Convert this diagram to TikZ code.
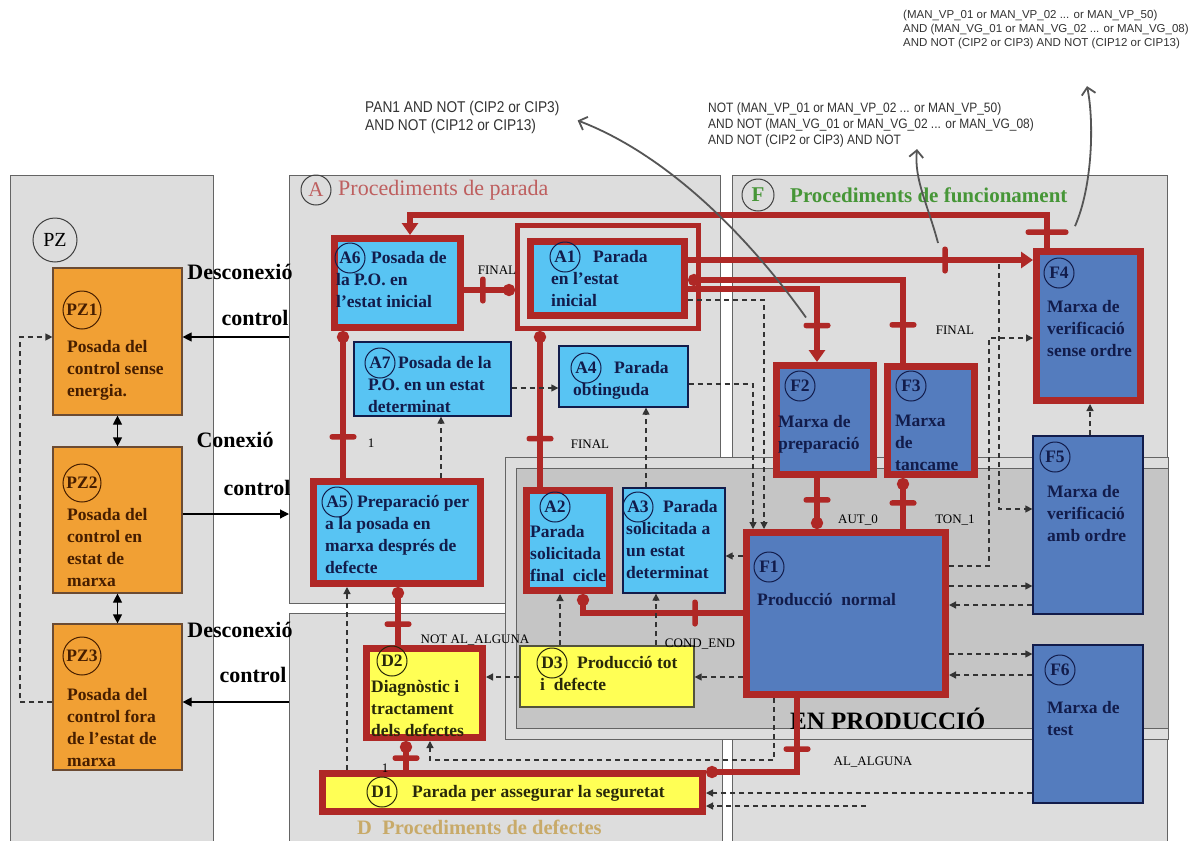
\documentclass[tikz,border=0pt]{standalone}
\usepackage{fontspec}
\setmainfont{Liberation Serif}
\newfontfamily\annfont{Liberation Sans}[FakeStretch=0.88]
\newfontfamily\annwide{Liberation Sans}
\usetikzlibrary{arrows.meta,positioning,calc}
\definecolor{panelgray}{RGB}{221,221,221}
\definecolor{prodgray}{RGB}{197,197,197}
\definecolor{panelline}{RGB}{100,100,100}
\definecolor{lred}{RGB}{175,40,38}
\definecolor{skyblue}{RGB}{88,196,243}
\definecolor{steelblue}{RGB}{84,124,190}
\definecolor{orangebox}{RGB}{241,160,52}
\definecolor{yellowbox}{RGB}{255,255,85}
\definecolor{navy}{RGB}{18,28,75}
\definecolor{brownt}{RGB}{70,30,0}
\definecolor{olivet}{RGB}{40,40,10}
\definecolor{atitle}{RGB}{190,95,95}
\definecolor{ftitle}{RGB}{70,150,55}
\definecolor{dtitle}{RGB}{200,170,105}
\definecolor{annogray}{RGB}{85,85,85}

\begin{document}
\begin{tikzpicture}[x=1pt, y=-1pt, >=Latex]
\tikzstyle{panel}=[draw=panelline, line width=1.2pt, fill=panelgray, inner sep=0pt, anchor=north west]
\tikzstyle{prodi}=[draw=panelline, line width=1.2pt, fill=prodgray, inner sep=0pt, anchor=north west]
\tikzstyle{pzbox}=[draw=brownt!80, line width=1.2pt, fill=orangebox, inner sep=0pt]
\tikzstyle{abox}=[draw=navy, line width=1.3pt, fill=skyblue, inner sep=0pt]
\tikzstyle{aboxr}=[draw=lred, line width=7pt, fill=skyblue, inner sep=0pt]
\tikzstyle{aframe}=[draw=lred, line width=5pt, inner sep=0pt]
\tikzstyle{dbox}=[draw=olivet!80, line width=1.3pt, fill=yellowbox, inner sep=0pt]
\tikzstyle{dboxr}=[draw=lred, line width=7pt, fill=yellowbox, inner sep=0pt]
\tikzstyle{fbox}=[draw=navy, line width=1.3pt, fill=steelblue, inner sep=0pt]
\tikzstyle{fboxr}=[draw=lred, line width=7pt, fill=steelblue, inner sep=0pt]
\tikzstyle{btxt}=[font=\fontsize{17.5}{22}\selectfont\bfseries, align=left, anchor=north west, inner sep=0pt, text=navy]
\tikzstyle{idc}=[circle, draw=navy, line width=1pt, inner sep=0pt, minimum size=30pt, font=\fontsize{17.5}{20}\selectfont\bfseries, text=navy]
\tikzstyle{side}=[font=\fontsize{22}{26}\selectfont\bfseries, inner sep=0pt]
\tikzstyle{tlab}=[font=\fontsize{13}{15}\selectfont, inner sep=0pt]
\tikzstyle{flow}=[draw=lred, line width=5.5pt]
\tikzstyle{flowin}=[flow, -{Triangle[length=12pt,width=16pt]}]
\tikzstyle{flowdot}=[flow, -{Circle[length=12pt]}]
\tikzstyle{tbar}=[fill=lred, inner sep=0pt, minimum width=5.5pt, minimum height=27pt, sloped, rounded corners=2.5pt]
\tikzstyle{sig}=[draw=black!80, line width=1.3pt, dash pattern=on 5pt off 4pt, -{Triangle[length=7pt,width=7pt]}]
\tikzstyle{link}=[draw=black, line width=1.2pt, -{Triangle[length=9pt,width=9pt]}]
\tikzstyle{note}=[draw=annogray, line width=1.8pt, -{Straight Barb[length=7pt,width=14pt]}]
\tikzstyle{notetxt}=[anchor=north west, align=left, inner sep=0pt, text=black!80]

\useasboundingbox (0,0) rectangle (1195,841);
\fill[white] (0,0) rectangle (1195,841);

\node[panel, minimum width=203pt, minimum height=680pt] (panPZ) at (10,175) {};
\node[panel, minimum width=431pt, minimum height=428pt] (panA) at (289,175) {};
\node[panel, minimum width=433pt, minimum height=240pt] (panD) at (289,613) {};
\node[panel, minimum width=435pt, minimum height=680pt] (panF) at (732,175) {};
\node[panel, minimum width=663pt, minimum height=282pt] (prodO) at (505,457) {};
\node[prodi, minimum width=652pt, minimum height=260pt] (prodI) at (516,468) {};

\node[circle, draw=black!75, line width=1pt, minimum size=30pt, inner sep=0pt, font=\fontsize{21}{24}\selectfont, text=atitle] (Acirc) at (316,190) {A};
\node[font=\fontsize{22}{26}\selectfont, text=atitle, anchor=west, inner sep=0pt] (Atitle) at (338,190) {Procediments de parada};
\node[circle, draw=black!75, line width=1pt, minimum size=32pt, inner sep=0pt, font=\fontsize{21}{24}\selectfont\bfseries, text=ftitle] (Fcirc) at (758,195) {F};
\node[font=\fontsize{21}{26}\selectfont\bfseries, text=ftitle, anchor=west, inner sep=0pt] (Ftitle) at (790,195) {Procediments de funcionament};
\node[font=\fontsize{20.5}{24}\selectfont\bfseries, text=dtitle, anchor=west, inner sep=0pt] (Dtitle) at (357,827) {D\ \ Procediments de defectes};
\node[circle, draw=black!75, line width=1pt, minimum size=44pt, inner sep=0pt, font=\fontsize{20}{24}\selectfont] (PZcirc) at (55,240) {PZ};
\node[font=\fontsize{25}{28}\selectfont\bfseries, anchor=west, inner sep=0pt] (prodtitle) at (790,719) {EN PRODUCCIÓ};

\node[pzbox, minimum width=129pt, minimum height=147pt] (PZ1) at (117.5,341.5) {};
\node[pzbox, minimum width=129pt, minimum height=146pt] (PZ2) at (117.5,520) {};
\node[pzbox, minimum width=129pt, minimum height=146pt] (PZ3) at (117.5,697) {};
\node[aboxr, minimum width=126pt, minimum height=89pt] (A6) at (397.5,283) {};
\node[aframe, minimum width=181pt, minimum height=103pt] (A1f) at (608,277) {};
\node[aboxr, minimum width=154pt, minimum height=74pt] (A1) at (607.5,278.5) {};
\node[abox, minimum width=157pt, minimum height=74pt] (A7) at (432.5,379) {};
\node[abox, minimum width=129pt, minimum height=61pt] (A4) at (623.5,376.5) {};
\node[aboxr, minimum width=167pt, minimum height=102pt] (A5) at (397,532.5) {};
\node[aboxr, minimum width=83pt, minimum height=100pt] (A2) at (568,540.5) {};
\node[abox, minimum width=102pt, minimum height=105pt] (A3) at (674,540.5) {};
\node[dboxr, minimum width=116pt, minimum height=89pt] (D2) at (424.5,693) {};
\node[dbox, minimum width=174pt, minimum height=61pt] (D3) at (607,676.5) {};
\node[dboxr, minimum width=380pt, minimum height=38pt] (D1) at (512.5,792.5) {};
\node[fboxr, minimum width=97pt, minimum height=109pt] (F2) at (825,420) {};
\node[fboxr, minimum width=87pt, minimum height=108pt] (F3) at (931,420.5) {};
\node[fboxr, minimum width=104pt, minimum height=149pt] (F4) at (1088.5,326) {};
\node[fbox, minimum width=110pt, minimum height=178pt] (F5) at (1088,525) {};
\node[fbox, minimum width=110pt, minimum height=158pt] (F6) at (1088,724) {};
\node[fboxr, minimum width=199pt, minimum height=162pt] (F1) at (846,613.5) {};

\node[idc, draw=brownt, text=brownt, minimum size=38pt] (PZ1c) at (82,310) {PZ1};
\node[idc, draw=brownt, text=brownt, minimum size=38pt] (PZ2c) at (82,483) {PZ2};
\node[idc, draw=brownt, text=brownt, minimum size=38pt] (PZ3c) at (82,656) {PZ3};
\node[btxt, text=brownt] (PZ1t) at (67,340) {Posada del\\control sense\\energia.};
\node[btxt, text=brownt] (PZ2t) at (67,508) {Posada del\\control en\\estat de\\marxa};
\node[btxt, text=brownt] (PZ3t) at (67,688) {Posada del\\control fora\\de l’estat de\\marxa};

\node[idc] (A6c) at (350,258) {A6};
\node[btxt] (A6t) at (336,251) {\hspace*{35pt}Posada de\\la P.O. en\\l’estat inicial};
\node[idc] (A1c) at (565,257) {A1};
\node[btxt] (A1t) at (551,250) {\hspace*{42pt}Parada\\en l’estat\\inicial};
\node[idc] (A7c) at (380,363) {A7};
\node[btxt] (A7t) at (368,356) {\hspace*{30pt}Posada de la\\P.O. en un estat\\determinat};
\node[idc] (A4c) at (586,368) {A4};
\node[btxt] (A4t) at (573,361) {\hspace*{41pt}Parada\\obtinguda};
\node[idc] (A5c) at (337,502) {A5};
\node[btxt] (A5t) at (325,495) {\hspace*{32pt}Preparació per\\a la posada en\\marxa després de\\defecte};
\node[idc] (A2c) at (555,507) {A2};
\node[btxt] (A2t) at (530,525) {Parada\\solicitada\\final\ \ cicle};
\node[idc] (A3c) at (638,507) {A3};
\node[btxt] (A3t) at (626,500) {\hspace*{37pt}Parada\\solicitada a\\un estat\\determinat};

\node[idc, draw=olivet, text=olivet] (D2c) at (392,661) {D2};
\node[btxt, text=olivet] (D2t) at (371,680) {Diagnòstic i\\tractament\\dels defectes};
\node[idc, draw=olivet, text=olivet] (D3c) at (552,663) {D3};
\node[btxt, text=olivet] (D3t) at (540,656) {\hspace*{37pt}Producció tot\\i\ \ defecte};
\node[idc, draw=olivet, text=olivet] (D1c) at (382,792) {D1};
\node[btxt, text=olivet] (D1t) at (412,785) {Parada per assegurar la seguretat};

\node[idc] (F2c) at (800,386) {F2};
\node[btxt] (F2t) at (778,415) {Marxa de\\preparació};
\node[idc] (F3c) at (911,386) {F3};
\node[btxt] (F3t) at (895,415) {Marxa\\de\\tancame};
\node[idc] (F4c) at (1059,273) {F4};
\node[btxt] (F4t) at (1047,300) {Marxa de\\verificació\\sense ordre};
\node[idc] (F5c) at (1055,457) {F5};
\node[btxt] (F5t) at (1047,485) {Marxa de\\verificació\\amb ordre};
\node[idc] (F6c) at (1060,670) {F6};
\node[btxt] (F6t) at (1047,701) {Marxa de\\test};
\node[idc] (F1c) at (769,567) {F1};
\node[btxt] (F1t) at (757,593) {Producció\ \ normal};

\node[side] (dc1) at (240,272) {Desconexió};
\node[side] (ct1) at (255,318) {control};
\node[side] (cn2) at (235,440) {Conexió};
\node[side] (ct2) at (257,488) {control};
\node[side] (dc3) at (240,630) {Desconexió};
\node[side] (ct3) at (253,675) {control};

\draw[link, {Triangle[length=9pt,width=9pt]}-{Triangle[length=9pt,width=9pt]}] (PZ1) -- (PZ2);
\draw[link, {Triangle[length=9pt,width=9pt]}-{Triangle[length=9pt,width=9pt]}] (PZ2) -- (PZ3);
\draw[link] (panA.west |- 0,337) -- (PZ1.east |- 0,337);
\draw[link] (PZ2.east |- 0,514) -- (panA.west |- 0,514);
\draw[link] (panD.west |- 0,702) -- (PZ3.east |- 0,702);
\draw[sig] (PZ3.west |- 0,702) -- (20,702) -- (20,337) -- (PZ1.west |- 0,337);

\draw[flowin] (1047,0 |- F4.north) -- node[tbar, pos=0.48, minimum height=43pt] (bF4) {} (1047,215) -- (410,215) -- (410,0 |- A6.north);
\draw[flowdot] (A6.east |- 0,290) -- node[tbar, pos=0.37] (bA6) {} (A1f.west |- 0,290);
\draw[flowin] (A1.east |- 0,260) -- node[tbar, pos=0.745] (bA1F4) {} (F4.west |- 0,260);
\draw[flowdot] (903,0 |- F3.north) -- node[tbar, pos=0.46] (bF3) {} (903,280) -- (A1.east |- 0,280);
\draw[flowin] (A1.east |- 0,289) -- (817,289) -- node[tbar, pos=0.5] (bF2) {} (817,0 |- F2.north);
\draw[flowdot] (540,0 |- A2.north) -- node[tbar, pos=0.31] (bA2) {} (540,0 |- A1f.south);
\draw[flowdot] (343,0 |- A5.north) -- node[tbar, pos=0.28] (bA5) {} (343,0 |- A6.south);
\draw[flowdot] (398,0 |- D2.north) -- node[tbar, pos=0.36] (bD2) {} (398,0 |- A5.south);
\draw[flowdot] (406,0 |- D1.north) -- node[tbar, pos=0.41] (bD1) {} (406,0 |- D2.south);
\draw[flowdot] (797,0 |- F1.south) -- node[tbar, pos=0.69] (bF1D) {} (797,772) -- (D1.east |- 0,772);
\draw[flowdot] (F1.west |- 0,613) -- node[tbar, pos=0.3] (bF1A) {} (583,613) -- (583,0 |- A2.south);
\draw[flowdot] (817,0 |- F2.south) -- node[tbar, pos=0.43] (bF2F1) {} (817,0 |- F1.north);
\draw[flowdot] (903,0 |- F1.north) -- node[tbar, pos=0.51] (bF1F3) {} (903,0 |- F3.south);

\draw[sig] (A7.east |- 0,388) -- (A4.west |- 0,388);
\draw[sig] (441,0 |- A5.north) -- (441,0 |- A7.south);
\draw[sig] (646,0 |- A3.north) -- (646,0 |- A4.south);
\draw[sig] (A1.east |- 0,300) -- (764,300) -- (764,0 |- F1.north);
\draw[sig] (A4.east |- 0,384) -- (753,384) -- (753,0 |- F1.north);
\draw[sig] (F1.west |- 0,556) -- (A3.east |- 0,556);
\draw[sig] (560,0 |- D3.north) -- (560,0 |- A2.south);
\draw[sig] (656,0 |- D3.north) -- (656,0 |- A3.south);
\draw[sig] (F1.west |- 0,677) -- (D3.east |- 0,677);
\draw[sig] (D3.west |- 0,677) -- (D2.east |- 0,677);
\draw[sig] (774,0 |- F1.south) -- (774,760) -- (430,760) -- (430,0 |- D2.south);
\draw[sig] (347,0 |- D1.north) -- (347,0 |- A5.south);
\draw[sig] (F1.east |- 0,586) -- (F5.west |- 0,586);
\draw[sig] (F5.west |- 0,605) -- (F1.east |- 0,605);
\draw[sig] (F1.east |- 0,654) -- (F6.west |- 0,654);
\draw[sig] (F6.west |- 0,675) -- (F1.east |- 0,675);
\draw[sig] (F1.east |- 0,566) -- (989,566) -- (989,338) -- (F4.west |- 0,338);
\coordinate (sF5) at (999,264);
\draw[sig] (sF5) -- (999,509) -- (F5.west |- 0,509);
\draw[sig] (1090,0 |- F5.north) -- (1090,0 |- F4.south);
\draw[sig] (F6.west |- 0,793) -- (D1.east |- 0,793);
\coordinate (sD1) at (866,806);
\draw[sig] (sD1) -- (D1.east |- 0,806);

\node[tlab] (lA6) at (497,270) {FINAL};
\node[tlab] (lA2) at (590,444) {FINAL};
\node[tlab] (lF3) at (955,330) {FINAL};
\node[tlab] (lA5) at (371,443) {1};
\node[tlab] (lD1) at (385,768) {1};
\node[tlab] (lD2) at (475,640) {NOT AL\_ALGUNA};
\node[tlab] (lF1A) at (700,644) {COND\_END};
\node[tlab] (lF2) at (858,520) {AUT\_0};
\node[tlab] (lF1F3) at (955,520) {TON\_1};
\node[tlab] (lF1D) at (873,762) {AL\_ALGUNA};

\node[notetxt, font=\annfont\fontsize{15.6}{18}\selectfont] (pan) at (365,101) {PAN1 AND NOT (CIP2 or CIP3)\\AND NOT (CIP12 or CIP13)};
\node[notetxt, font=\annfont\fontsize{13.6}{16}\selectfont] (mid) at (708,102) {NOT (MAN\_VP\_01 or MAN\_VP\_02 ... or MAN\_VP\_50)\\AND NOT (MAN\_VG\_01 or MAN\_VG\_02 ... or MAN\_VG\_08)\\AND NOT (CIP2 or CIP3) AND NOT};
\node[notetxt, font=\annwide\fontsize{11.5}{14}\selectfont] (top) at (903,10) {(MAN\_VP\_01 or MAN\_VP\_02 ... or MAN\_VP\_50)\\AND (MAN\_VG\_01 or MAN\_VG\_02 ... or MAN\_VG\_08)\\AND NOT (CIP2 or CIP3) AND NOT (CIP12 or CIP13)};
\draw[note] ([xshift=-11pt,yshift=8pt]bF2.center) .. controls (740,225) and (660,152) .. ([xshift=18pt,yshift=-3pt]pan.east);
\draw[note] ([xshift=-7pt,yshift=17pt]bA1F4.center) .. controls (928,205) and (914,180) .. ([xshift=209pt,yshift=-2pt]mid.south west);
\draw[note] ([xshift=28pt,yshift=6pt]bF4.center) .. controls (1093,185) and (1094,120) .. ([xshift=184pt,yshift=-37pt]top.south west);
\end{tikzpicture}
\end{document}
